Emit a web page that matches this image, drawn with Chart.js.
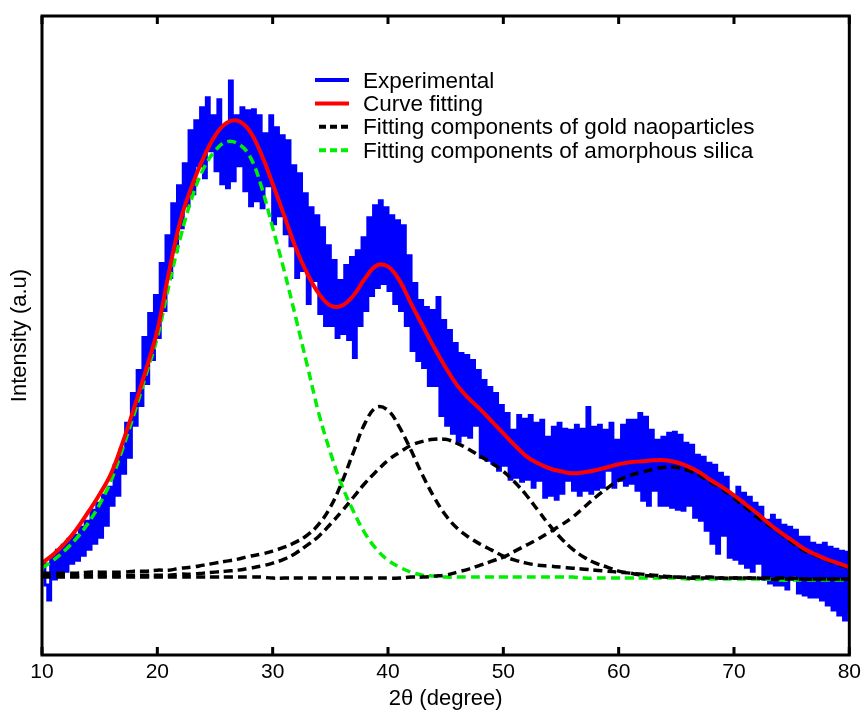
<!DOCTYPE html>
<html>
<head>
<meta charset="utf-8">
<title>XRD pattern fitting</title>
<script src="https://cdn.jsdelivr.net/npm/chart.js@4.4.0/dist/chart.umd.min.js"></script>
<style>
  html, body { margin: 0; padding: 0; background: #fff; }
</style>
</head>
<body>
<canvas id="myChart" width="866" height="712"></canvas>
<script>
// measured pattern: one point every 0.25 degree, starting at 10
const expStart = 10;
const expStep = 0.25;
const experimental = [
  92, 70, 55, 98,     76, 105, 82, 110,   84, 116, 92, 120,   95, 128, 100, 134,
  106, 145, 112, 152, 118, 160, 130, 168, 150, 190, 160, 205, 182, 232, 198, 262,
  230, 285, 250, 318, 272, 342, 296, 360, 318, 392, 345, 420, 378, 452, 405, 470,
  428, 492, 450, 525, 462, 535, 490, 548, 478, 558, 505, 540, 485, 556, 472, 530,
  468, 575, 475, 540, 490, 548, 465, 545, 450, 546, 455, 540, 448, 522, 470, 540,
  432, 528, 440, 520, 422, 515, 410, 490, 378, 482, 385, 462, 352, 448, 375, 440,
  342, 428, 330, 410, 330, 395, 318, 375, 322, 390, 316, 398, 298, 405, 330, 418,
  345, 438, 360, 450, 368, 455, 372, 448, 365, 440, 352, 435, 345, 430, 330, 400,
  305, 372, 295, 355, 288, 348, 270, 345, 270, 358, 240, 335, 230, 325, 222, 312,
  214, 302, 220, 300, 218, 295, 230, 285, 198, 275, 195, 268, 192, 262, 185, 250,
  190, 242, 176, 225, 178, 240, 174, 236, 176, 240, 168, 232, 175, 235, 158, 218,
  160, 228, 156, 232, 162, 226, 175, 225, 165, 230, 160, 226, 165, 248, 162, 228,
  166, 230, 168, 225, 185, 232, 168, 215, 175, 230, 170, 235, 172, 235, 165, 242,
  155, 238, 150, 225, 165, 215, 150, 218, 150, 222, 148, 223, 146, 220, 145, 212,
  150, 210, 138, 200, 135, 198, 125, 192, 112, 190, 102, 182, 120, 178, 98, 160,
  96, 168, 92, 162,   88, 158, 84, 152,   92, 148, 76, 135,   72, 140, 70, 135,
  70, 130, 66, 128,   80, 125, 62, 118,   60, 118, 58, 112,   58, 110, 55, 112,
  50, 108, 45, 106,   40, 104, 35, 103,   42
];

// fitted curves, one value per degree
const fitAngles = [
  10, 11, 12, 13, 14, 15, 16, 17, 18, 19, 20, 21, 22, 23, 24, 25, 26, 27, 28, 29,
  30, 31, 32, 33, 34, 35, 36, 37, 38, 39, 40, 41, 42, 43, 44, 45, 46, 47, 48, 49,
  50, 51, 52, 53, 54, 55, 56, 57, 58, 59, 60, 61, 62, 63, 64, 65, 66, 67, 68, 69,
  70, 71, 72, 73, 74, 75, 76, 77, 78, 79, 80
];
const curveFit = [
  92, 101, 112, 126, 143, 161, 182, 213, 248, 285,
  325, 383, 435, 470, 498, 520, 533, 535, 525, 502,
  472, 440, 408, 382, 362, 350, 350, 360, 377, 390,
  389, 375, 352, 330, 308, 288, 270, 257, 246, 234,
  222, 210, 199, 192, 187, 184, 182, 183, 185, 188,
  191, 193, 194, 195, 195, 193, 189, 183, 175, 168,
  160, 151, 142, 132, 123, 115, 107, 101, 96, 92, 88
];
const silica = [
  87, 95, 105, 117, 132, 151, 175, 207, 242, 280,
  318, 370, 418, 458, 487, 505, 514, 512, 500, 470,
  428, 385, 338, 290, 242, 203, 170, 144, 122, 106,
  95, 88, 83, 80, 79, 78, 78, 78, 78, 78,
  78, 78, 78, 78, 78, 78, 78, 77, 77, 77,
  77, 77, 77, 77, 77, 77, 76, 76, 76, 76,
  76, 76, 76, 76, 75, 75, 75, 75, 75, 75, 75
];
const goldPeak1 = [
  82, 82, 82, 82, 83, 83, 83, 83, 84, 84,
  85, 85, 87, 88, 90, 92, 94, 96, 99, 101,
  104, 108, 113, 120, 131, 148, 173, 203, 232, 248,
  245, 228, 205, 180, 158, 140, 127, 118, 111, 105,
  99, 95, 92, 90, 89, 88, 87, 86, 85, 84,
  83, 82, 81, 80, 79, 78, 78, 78, 78, 77,
  77, 77, 77, 77, 77, 77, 76, 76, 76, 76, 76
];
const goldPeak2 = [
  79, 79, 79, 79, 80, 80, 80, 80, 80, 80,
  80, 80, 81, 81, 82, 83, 84, 85, 87, 89,
  92, 96, 102, 110, 119, 131, 144, 158, 172, 184,
  195, 203, 210, 214, 216, 216, 212, 206, 199, 192,
  184, 173, 160, 145, 130, 117, 106, 98, 92, 88,
  84, 82, 80, 79, 78, 78, 77, 77, 77, 77,
  77, 77, 77, 76, 76, 76, 76, 76, 76, 76, 76
];
const goldPeak3 = [
  78, 78, 78, 78, 78, 78, 78, 78, 78, 78,
  78, 78, 78, 78, 78, 78, 78, 78, 78, 78,
  77, 77, 77, 77, 77, 77, 77, 77, 77, 77,
  77, 77, 78, 78, 79, 80, 83, 86, 90, 94,
  98, 104, 110, 116, 123, 130, 138, 148, 158, 167,
  175, 180, 183, 186, 188, 188, 185, 180, 173, 166,
  157, 148, 138, 130, 122, 113, 105, 100, 95, 91, 87
];
const xTicks = [10, 20, 30, 40, 50, 60, 70, 80];

const legendOrder = [
  'Experimental',
  'Curve fitting',
  'Fitting components of gold naoparticles',
  'Fitting components of amorphous silica'
];

const FONT = "'Liberation Sans', Arial, sans-serif";
Chart.defaults.font.family = FONT;
Chart.defaults.color = '#000';

const pairs = ys => ys.map((y, i) => ({ x: fitAngles[i], y: y }));

// box around the plot with inward ticks top and bottom
const framePlugin = {
  id: 'frame',
  afterDatasetsDraw(chart) {
    const { ctx, chartArea: a } = chart;
    const x = chart.scales.x;
    ctx.save();
    ctx.strokeStyle = '#000';
    ctx.lineWidth = 3;
    ctx.strokeRect(a.left, a.top, a.right - a.left, a.bottom - a.top);
    xTicks.forEach(v => {
      const px = x.getPixelForValue(v);
      ctx.beginPath();
      ctx.moveTo(px, a.bottom);
      ctx.lineTo(px, a.bottom - 8);
      ctx.moveTo(px, a.top);
      ctx.lineTo(px, a.top + 8);
      ctx.stroke();
    });
    ctx.restore();
  }
};

// legend drawn inside the plot area
const legendPlugin = {
  id: 'insideLegend',
  afterDraw(chart) {
    const { ctx, chartArea: a } = chart;
    ctx.save();
    ctx.font = '22.5px ' + FONT;
    ctx.textBaseline = 'alphabetic';
    legendOrder.forEach((label, i) => {
      const ds = chart.data.datasets.find(d => d.label === label);
      const cy = a.top + 64 + i * 23.4;
      const x0 = a.left + 273;
      const dashed = ds.borderDash && ds.borderDash.length > 0;
      ctx.beginPath();
      ctx.strokeStyle = ds.borderColor;
      ctx.lineWidth = 4;
      ctx.setLineDash(dashed ? [7, 4] : []);
      ctx.moveTo(dashed ? x0 + 4 : x0, cy);
      ctx.lineTo(x0 + 34, cy);
      ctx.stroke();
      ctx.setLineDash([]);
      ctx.fillStyle = '#000';
      ctx.fillText(label, x0 + 48, cy + 7.5);
    });
    ctx.restore();
  }
};

const fitStyle = { tension: 0.4, cubicInterpolationMode: 'default' };

const ctx = document.getElementById('myChart').getContext('2d');
new Chart(ctx, {
  type: 'line',
  data: {
    datasets: [
      Object.assign({
        label: 'Curve fitting',
        data: pairs(curveFit),
        borderColor: '#ff0000',
        borderWidth: 4
      }, fitStyle),
      Object.assign({
        label: 'Fitting components of gold naoparticles',
        data: pairs(goldPeak1),
        borderColor: '#000000',
        borderWidth: 3.5,
        borderDash: [9, 5]
      }, fitStyle),
      Object.assign({
        label: 'Fitting components of gold naoparticles',
        data: pairs(goldPeak2),
        borderColor: '#000000',
        borderWidth: 3.5,
        borderDash: [9, 5]
      }, fitStyle),
      Object.assign({
        label: 'Fitting components of gold naoparticles',
        data: pairs(goldPeak3),
        borderColor: '#000000',
        borderWidth: 3.5,
        borderDash: [9, 5]
      }, fitStyle),
      Object.assign({
        label: 'Fitting components of amorphous silica',
        data: pairs(silica),
        borderColor: '#00ee00',
        borderWidth: 3.5,
        borderDash: [9, 5]
      }, fitStyle),
      {
        label: 'Experimental',
        data: experimental.map((y, i) => ({ x: expStart + i * expStep, y: y })),
        borderColor: '#0000ff',
        borderWidth: 3,
        stepped: true
      }
    ]
  },
  options: {
    responsive: false,
    devicePixelRatio: 1,
    animation: false,
    elements: { point: { radius: 0 } },
    layout: { padding: { top: 16, right: 12, left: 0, bottom: 0 } },
    plugins: { legend: { display: false }, tooltip: { enabled: false } },
    scales: {
      x: {
        type: 'linear',
        min: 10,
        max: 80,
        grid: { display: false, drawTicks: false },
        border: { display: false },
        ticks: { stepSize: 10, padding: 5, font: { size: 21 }, color: '#000' },
        title: {
          display: true,
          text: '2θ (degree)',
          font: { size: 22 },
          color: '#000',
          padding: { top: 0, bottom: 0 }
        },
        afterFit(scale) { scale.height = 57; }
      },
      y: {
        min: 0,
        max: 640,
        grid: { display: false, drawTicks: false },
        border: { display: false },
        ticks: { display: false },
        title: {
          display: true,
          text: 'Intensity (a.u)',
          font: { size: 22 },
          color: '#000',
          padding: { top: 7, bottom: 0 }
        },
        afterFit(scale) { scale.width = 42; }
      }
    }
  },
  plugins: [framePlugin, legendPlugin]
});
</script>
</body>
</html>
